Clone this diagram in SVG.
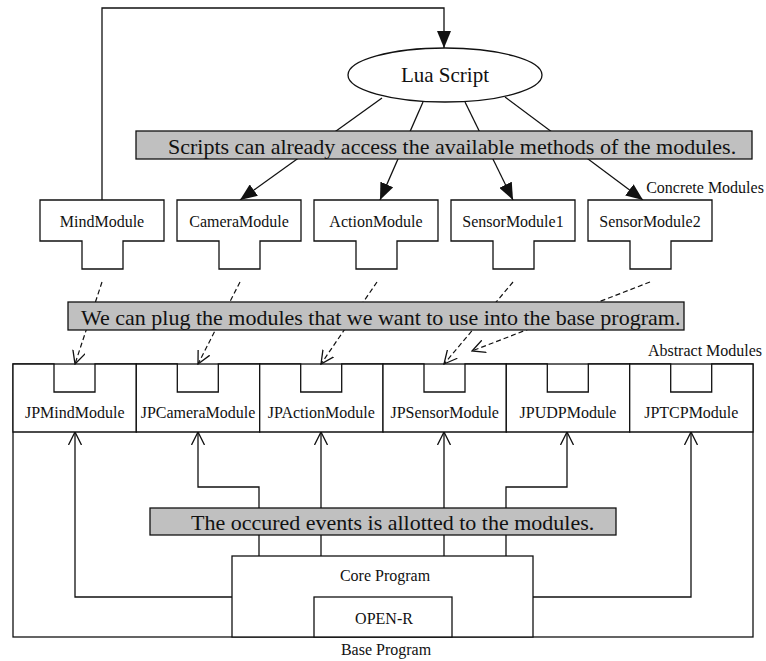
<svg xmlns="http://www.w3.org/2000/svg" width="766" height="661" viewBox="0 0 766 661">
<style>
  .ln{fill:none;stroke:#111;stroke-width:1.3}
  .dash{fill:none;stroke:#111;stroke-width:1.2;stroke-dasharray:5,3}
  .box{fill:#fff;stroke:#111;stroke-width:1.3}
  .ban{fill:#c0c0c0;stroke:#111;stroke-width:1.3}
  .t{font-family:"Liberation Serif","Times New Roman",serif;font-size:16px;fill:#111;text-anchor:middle}
  .bt{font-family:"Liberation Serif","Times New Roman",serif;font-size:22px;fill:#111}
</style>
<defs>
  <marker id="fa" markerUnits="userSpaceOnUse" viewBox="0 0 17 14" refX="17" refY="7" markerWidth="17" markerHeight="14" orient="auto">
    <path d="M0,0 L17,7 L0,14 Z" fill="#111"/>
  </marker>
  <marker id="oa" markerUnits="userSpaceOnUse" viewBox="0 0 14 14" refX="13" refY="7" markerWidth="14" markerHeight="14" orient="auto">
    <path d="M0,0.5 L13,7 L0,13.5" fill="none" stroke="#111" stroke-width="1.3"/>
  </marker>
</defs>
<rect width="766" height="661" fill="#fff"/>

<g id="base-program">
  <rect class="box" x="13" y="364" width="740" height="273"/>
  <text class="t" x="386" y="655">Base Program</text>
</g>

<g id="connectors">
  <polyline class="ln" points="102,200 102,8 444,8 444,48" marker-end="url(#fa)"/>
  <line class="ln" x1="382" y1="98" x2="240" y2="200" marker-end="url(#fa)"/>
  <line class="ln" x1="423" y1="102" x2="380" y2="200" marker-end="url(#fa)"/>
  <line class="ln" x1="465" y1="102" x2="513" y2="200" marker-end="url(#fa)"/>
  <line class="ln" x1="505" y1="97" x2="643" y2="200" marker-end="url(#fa)"/>

  <line class="dash" x1="102" y1="282" x2="75" y2="364" marker-end="url(#oa)"/>
  <line class="dash" x1="240" y1="282" x2="198" y2="364" marker-end="url(#oa)"/>
  <line class="dash" x1="377" y1="282" x2="321" y2="364" marker-end="url(#oa)"/>
  <line class="dash" x1="513" y1="282" x2="444" y2="364" marker-end="url(#oa)"/>
  <line class="dash" x1="650" y1="282" x2="472" y2="351" marker-end="url(#oa)"/>

  <polyline class="ln" points="232,597 75,597 75,432" marker-end="url(#oa)"/>
  <polyline class="ln" points="259,556 259,487 198,487 198,432" marker-end="url(#oa)"/>
  <line class="ln" x1="321" y1="556" x2="321" y2="432" marker-end="url(#oa)"/>
  <line class="ln" x1="444" y1="556" x2="444" y2="432" marker-end="url(#oa)"/>
  <polyline class="ln" points="506,556 506,487 567,487 567,432" marker-end="url(#oa)"/>
  <polyline class="ln" points="533,597 691,597 691,432" marker-end="url(#oa)"/>
</g>

<g id="lua-script">
  <ellipse class="box" cx="445" cy="75" rx="97" ry="27"/>
  <text class="t" x="445" y="82" style="font-size:21px">Lua Script</text>
</g>

<g id="banner-scripts">
  <rect class="ban" x="136" y="131" width="616" height="28"/>
  <text class="bt" x="168" y="154">Scripts can already access the available methods of the modules.</text>
</g>

<g id="mind-module">
  <path class="box" d="M40,200 H164 V241 H123 V269 H82 V241 H40 Z"/>
  <text class="t" x="102" y="227">MindModule</text>
</g>
<g id="camera-module">
  <path class="box" d="M177,200 H301 V241 H260 V269 H219 V241 H177 Z"/>
  <text class="t" x="239" y="227">CameraModule</text>
</g>
<g id="action-module">
  <path class="box" d="M314,200 H438 V241 H397 V269 H356 V241 H314 Z"/>
  <text class="t" x="376" y="227">ActionModule</text>
</g>
<g id="sensor-module1">
  <path class="box" d="M451,200 H575 V241 H534 V269 H493 V241 H451 Z"/>
  <text class="t" x="513" y="227">SensorModule1</text>
</g>
<g id="sensor-module2">
  <path class="box" d="M588,200 H712 V241 H671 V269 H630 V241 H588 Z"/>
  <text class="t" x="650" y="227">SensorModule2</text>
</g>
<g id="concrete-label">
  <text class="t" x="705" y="193">Concrete Modules</text>
</g>

<g id="banner-plug">
  <rect class="ban" x="68" y="302" width="616" height="28"/>
  <text class="bt" x="81" y="325">We can plug the modules that we want to use into the base program.</text>
</g>

<g id="abstract-label">
  <text class="t" x="705" y="356">Abstract Modules</text>
</g>

<g id="jp-mind-module">
  <path class="box" d="M13,364 H54 V392 H95 V364 H136.3 V432 H13 Z"/>
  <text class="t" x="74.7" y="418">JPMindModule</text>
</g>
<g id="jp-camera-module">
  <path class="box" d="M136.3,364 H177.3 V392 H218.3 V364 H259.7 V432 H136.3 Z"/>
  <text class="t" x="198" y="418">JPCameraModule</text>
</g>
<g id="jp-action-module">
  <path class="box" d="M259.7,364 H300.7 V392 H341.7 V364 H383 V432 H259.7 Z"/>
  <text class="t" x="321.3" y="418">JPActionModule</text>
</g>
<g id="jp-sensor-module">
  <path class="box" d="M383,364 H424 V392 H465 V364 H506.3 V432 H383 Z"/>
  <text class="t" x="444.7" y="418">JPSensorModule</text>
</g>
<g id="jp-udp-module">
  <path class="box" d="M506.3,364 H547.3 V392 H588.3 V364 H629.7 V432 H506.3 Z"/>
  <text class="t" x="568" y="418">JPUDPModule</text>
</g>
<g id="jp-tcp-module">
  <path class="box" d="M629.7,364 H670.7 V392 H711.7 V364 H753 V432 H629.7 Z"/>
  <text class="t" x="691.3" y="418">JPTCPModule</text>
</g>

<g id="banner-events">
  <rect class="ban" x="150" y="508" width="466" height="27"/>
  <text class="bt" x="191" y="530">The occured events is allotted to the modules.</text>
</g>

<g id="core-program">
  <rect class="box" x="232" y="556" width="301" height="81"/>
  <text class="t" x="385" y="581">Core Program</text>
</g>
<g id="open-r">
  <rect class="box" x="314" y="597" width="138" height="40"/>
  <text class="t" x="384" y="624">OPEN-R</text>
</g>
</svg>
